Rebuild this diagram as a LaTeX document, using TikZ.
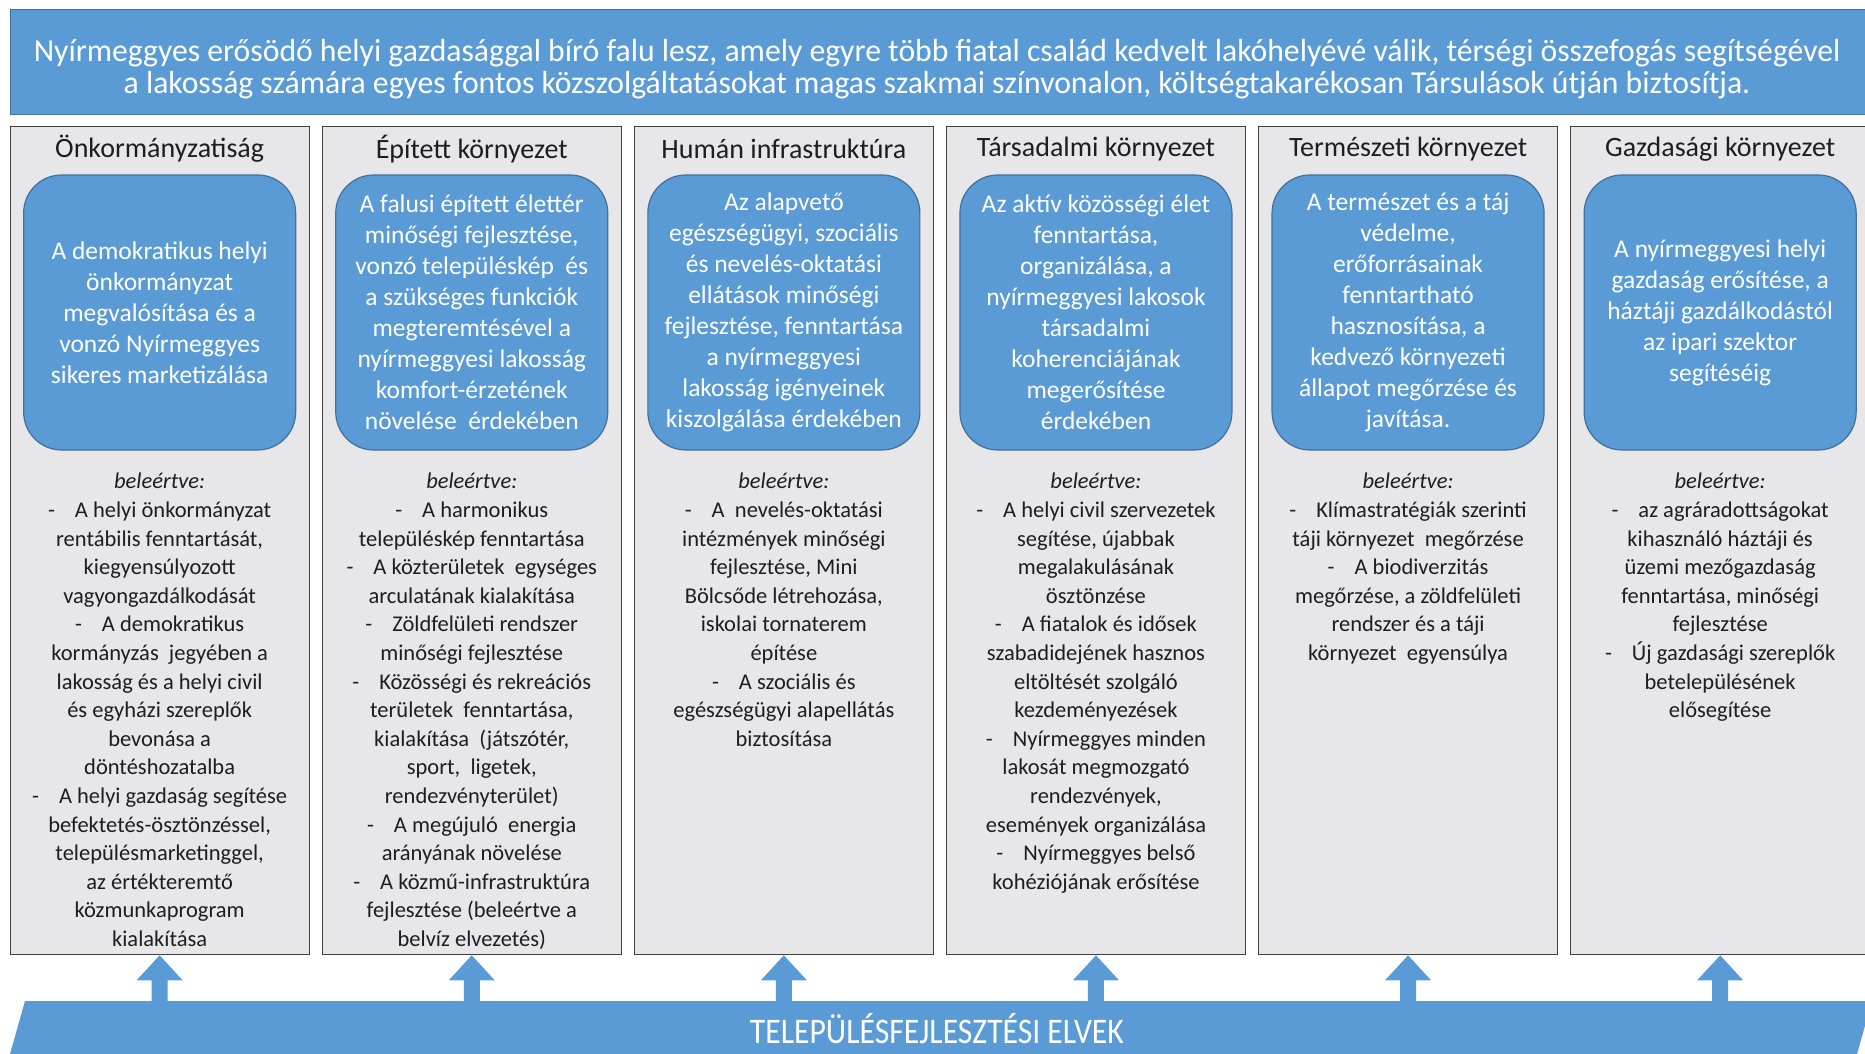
\documentclass[tikz,border=0pt]{standalone}
\usepackage{fontspec}
\setmainfont{Carlito}
\newfontfamily\narrowfont[FakeStretch=0.99]{Carlito}
\newfontfamily\barfont[FakeStretch=0.88]{Carlito}
\usetikzlibrary{calc}
\definecolor{officeblue}{HTML}{5B9BD5}
\definecolor{blueedge}{HTML}{41719C}
\definecolor{colgray}{HTML}{E7E6E8}
\definecolor{coledge}{HTML}{404040}
\definecolor{txt}{HTML}{1E1E1E}
\newcommand\itemdash{-\hspace{20pt}}
\tikzset{
  colbox/.style={draw=coledge, line width=1.3pt, fill=colgray, minimum width=299pt, minimum height=828pt, anchor=north west, inner sep=0pt},
  hdr/.style={font=\fontsize{28}{32}\selectfont, text=txt, inner sep=0pt},
  blob/.style={draw=blueedge, line width=1.2pt, fill=officeblue, rounded corners=38pt, minimum width=272pt, minimum height=275pt, align=center, text=white, font=\fontsize{25.5}{31}\selectfont, inner sep=0pt},
  body/.style={align=center, text=txt, font=\fontsize{22.5}{28.6}\selectfont, inner sep=0pt, anchor=north},
  banner/.style={draw=blueedge, line width=1pt, fill=officeblue, minimum width=1856pt, minimum height=105pt, anchor=north west, inner sep=0pt},
  bannertext/.style={align=center, text=white, font=\narrowfont\fontsize{32}{32.5}\selectfont, inner sep=0pt},
  bartext/.style={text=white, font=\barfont\fontsize{36}{36}\selectfont, inner sep=0pt},
  arrowfill/.style={fill=officeblue}
}
\begin{document}
\begin{tikzpicture}[x=1pt,y=-1pt]
\useasboundingbox (0,0) rectangle (1865,1054);
\fill[white] (0,0) rectangle (1865,1054);
\clip (0,0) rectangle (1865,1054);

% top banner
\node[banner] (ban) at (9.5,9.5) {};
\node[bannertext] (bantxt) at (937,69) {Nyírmeggyes erősödő helyi gazdasággal bíró falu lesz, amely egyre több fiatal család kedvelt lakóhelyévé válik, térségi összefogás segítségével\\a lakosság számára egyes fontos közszolgáltatásokat magas szakmai színvonalon, költségtakarékosan Társulások útján biztosítja.};

% columns
\node[colbox] (c1) at (9.5,126) {};
\node[colbox] (c2) at (321.6,126) {};
\node[colbox] (c3) at (633.7,126) {};
\node[colbox] (c4) at (945.8,126) {};
\node[colbox] (c5) at (1257.9,126) {};
\node[colbox] (c6) at (1570,126) {};

% headers
\node[hdr] (h1) at ($(c1.north)+(0,23)$) {Önkormányzatiság};
\node[hdr] (h2) at ($(c2.north)+(0,23)$) {Épített környezet};
\node[hdr] (h3) at ($(c3.north)+(0,23)$) {Humán infrastruktúra};
\node[hdr] (h4) at ($(c4.north)+(0,23)$) {Társadalmi környezet};
\node[hdr] (h5) at ($(c5.north)+(0,23)$) {Természeti környezet};
\node[hdr] (h6) at ($(c6.north)+(0,23)$) {Gazdasági környezet};

% blobs
\node[blob] (b1) at ($(c1.north)+(0,186.5)$) {A demokratikus helyi\\önkormányzat\\megvalósítása és a\\vonzó Nyírmeggyes\\sikeres marketizálása};
\node[blob] (b2) at ($(c2.north)+(0,186.5)$) {A falusi épített élettér\\minőségi fejlesztése,\\vonzó településkép \ és\\a szükséges funkciók\\megteremtésével a\\nyírmeggyesi lakosság\\komfort-érzetének\\növelése \ érdekében};
\node[blob] (b3) at ($(c3.north)+(0,186.5)$) {Az alapvető\\egészségügyi, szociális\\és nevelés-oktatási\\ellátások minőségi\\fejlesztése, fenntartása\\a nyírmeggyesi\\lakosság igényeinek\\kiszolgálása érdekében};
\node[blob] (b4) at ($(c4.north)+(0,186.5)$) {Az aktív közösségi élet\\fenntartása,\\organizálása, a\\nyírmeggyesi lakosok\\társadalmi\\koherenciájának\\megerősítése\\érdekében};
\node[blob] (b5) at ($(c5.north)+(0,186.5)$) {A természet és a táj\\védelme,\\erőforrásainak\\fenntartható\\hasznosítása, a\\kedvező környezeti\\állapot megőrzése és\\javítása.};
\node[blob] (b6) at ($(c6.north)+(0,186.5)$) {A nyírmeggyesi helyi\\gazdaság erősítése, a\\háztáji gazdálkodástól\\az ipari szektor\\segítéséig};

% body texts
\node[body] (t1) at ($(c1.north)+(0,347)$) {\textit{beleértve:}\\\itemdash A helyi önkormányzat\\rentábilis fenntartását,\\kiegyensúlyozott\\vagyongazdálkodását\\\itemdash A demokratikus\\kormányzás \ jegyében a\\lakosság és a helyi civil\\és egyházi szereplők\\bevonása a\\döntéshozatalba\\\itemdash A helyi gazdaság segítése\\befektetés-ösztönzéssel,\\településmarketinggel,\\az értékteremtő\\közmunkaprogram\\kialakítása};
\node[body] (t2) at ($(c2.north)+(0,347)$) {\textit{beleértve:}\\\itemdash A harmonikus\\településkép fenntartása\\\itemdash A közterületek \ egységes\\arculatának kialakítása\\\itemdash Zöldfelületi rendszer\\minőségi fejlesztése\\\itemdash Közösségi és rekreációs\\területek \ fenntartása,\\kialakítása \ (játszótér,\\sport, \ ligetek,\\rendezvényterület)\\\itemdash A megújuló \ energia\\arányának növelése\\\itemdash A közmű-infrastruktúra\\fejlesztése (beleértve a\\belvíz elvezetés)};
\node[body] (t3) at ($(c3.north)+(0,347)$) {\textit{beleértve:}\\\itemdash A \ nevelés-oktatási\\intézmények minőségi\\fejlesztése, Mini\\Bölcsőde létrehozása,\\iskolai tornaterem\\építése\\\itemdash A szociális és\\egészségügyi alapellátás\\biztosítása};
\node[body] (t4) at ($(c4.north)+(0,347)$) {\textit{beleértve:}\\\itemdash A helyi civil szervezetek\\segítése, újabbak\\megalakulásának\\ösztönzése\\\itemdash A fiatalok és idősek\\szabadidejének hasznos\\eltöltését szolgáló\\kezdeményezések\\\itemdash Nyírmeggyes minden\\lakosát megmozgató\\rendezvények,\\események organizálása\\\itemdash Nyírmeggyes belső\\kohéziójának erősítése};
\node[body] (t5) at ($(c5.north)+(0,347)$) {\textit{beleértve:}\\\itemdash Klímastratégiák szerinti\\táji környezet \ megőrzése\\\itemdash A biodiverzitás\\megőrzése, a zöldfelületi\\rendszer és a táji\\környezet \ egyensúlya};
\node[body] (t6) at ($(c6.north)+(0,347)$) {\textit{beleértve:}\\\itemdash az agráradottságokat\\kihasználó háztáji és\\üzemi mezőgazdaság\\fenntartása, minőségi\\fejlesztése\\\itemdash Új gazdasági szereplők\\betelepülésének\\elősegítése};

% bottom bar
\coordinate (bartop) at (0,1001);
\fill[officeblue] (25,1001) -- (1872,1001) -- (1857,1054) -- (10,1054) -- cycle;
\node[bartext] (bartxt) at (937,1029) {TELEPÜLÉSFEJLESZTÉSI ELVEK};

% block arrows from bar to columns
\foreach \i in {1,...,6}{
  \fill[arrowfill] (c\i.south) -- ++(23,25) -- ++(-15,0) -- ($(c\i.south |- bartop)+(8,2)$) -- ++(-16,0) -- ($(c\i.south)+(-8,25)$) -- ++(-15,0) -- cycle;
}
\end{tikzpicture}
\end{document}
